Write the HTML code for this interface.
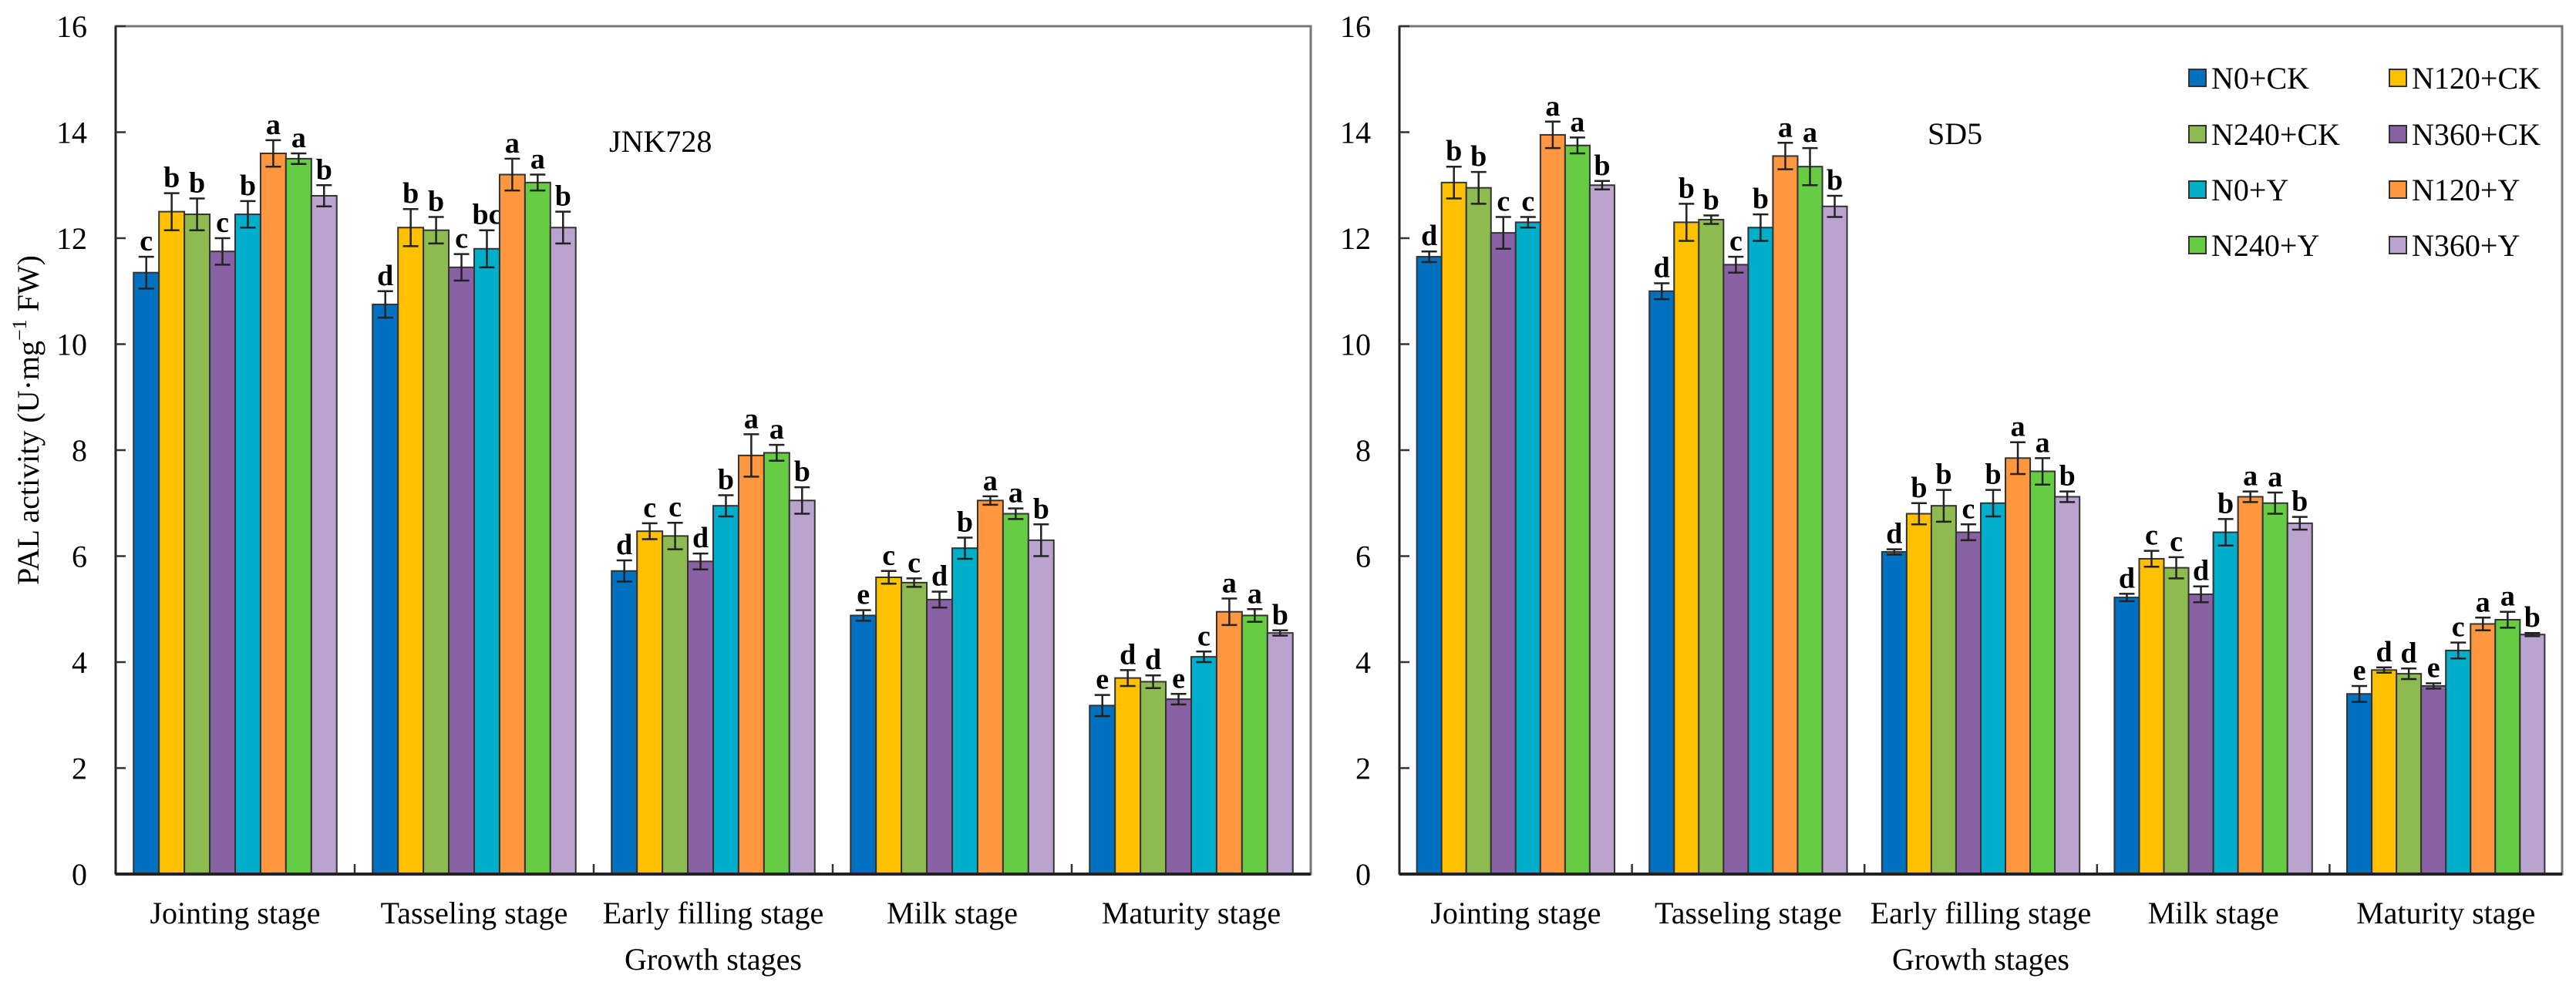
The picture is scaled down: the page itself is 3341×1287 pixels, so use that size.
<!DOCTYPE html>
<html><head><meta charset="utf-8"><style>
html,body{margin:0;padding:0;background:#fff;}
svg{display:block;font-family:"Liberation Serif",serif;}
</style></head><body>
<svg id="chart" width="3341" height="1287" viewBox="0 0 3341 1287" xmlns="http://www.w3.org/2000/svg">
<rect x="0" y="0" width="3341" height="1287" fill="#fff"/>
<text transform="translate(50,545) rotate(-90)" text-anchor="middle" font-size="40">PAL activity (U·mg<tspan font-size="26" dy="-16">−1</tspan><tspan dy="16"> FW)</tspan></text>
</svg>
<script>
const categories = ["Jointing stage","Tasseling stage","Early filling stage","Milk stage","Maturity stage"];
const seriesNames = ["N0+CK","N120+CK","N240+CK","N360+CK","N0+Y","N120+Y","N240+Y","N360+Y"];
const seriesColors = ["#0070C0","#FFC000","#8DBB4F","#8862A5","#00AECA","#FF9640","#66CC44","#BBA3CF"];
const yTicks = [0,2,4,6,8,10,12,14,16];
// JNK728: values[category][series]
const jnkValues = [
 [11.35,12.5,12.45,11.75,12.45,13.6,13.5,12.8],
 [10.75,12.2,12.15,11.45,11.8,13.2,13.05,12.2],
 [5.72,6.47,6.38,5.9,6.95,7.9,7.95,7.05],
 [4.88,5.6,5.5,5.18,6.15,7.05,6.8,6.3],
 [3.18,3.7,3.63,3.3,4.1,4.95,4.88,4.55]];
const jnkErrors = [
 [0.3,0.35,0.3,0.25,0.25,0.25,0.1,0.2],
 [0.25,0.35,0.25,0.25,0.35,0.3,0.15,0.3],
 [0.2,0.15,0.25,0.15,0.2,0.4,0.15,0.25],
 [0.1,0.12,0.08,0.15,0.2,0.08,0.1,0.3],
 [0.2,0.15,0.12,0.1,0.1,0.25,0.12,0.05]];
const jnkLetters = [
 ["c","b","b","c","b","a","a","b"],
 ["d","b","b","c","bc","a","a","b"],
 ["d","c","c","d","b","a","a","b"],
 ["e","c","c","d","b","a","a","b"],
 ["e","d","d","e","c","a","a","b"]];
// SD5
const sdValues = [
 [11.65,13.05,12.95,12.1,12.3,13.95,13.75,13.0],
 [11.0,12.3,12.35,11.5,12.2,13.55,13.35,12.6],
 [6.08,6.8,6.95,6.45,7.0,7.85,7.6,7.12],
 [5.22,5.95,5.78,5.28,6.45,7.12,7.0,6.62],
 [3.4,3.85,3.78,3.55,4.22,4.72,4.8,4.52]];
const sdErrors = [
 [0.1,0.3,0.3,0.3,0.1,0.25,0.15,0.08],
 [0.15,0.35,0.08,0.15,0.25,0.25,0.35,0.2],
 [0.05,0.2,0.3,0.15,0.25,0.3,0.25,0.1],
 [0.07,0.15,0.2,0.15,0.25,0.1,0.2,0.12],
 [0.15,0.05,0.1,0.05,0.15,0.12,0.15,0.03]];
const sdLetters = [
 ["d","b","b","c","c","a","a","b"],
 ["d","b","b","c","b","a","a","b"],
 ["d","b","b","c","b","a","a","b"],
 ["d","c","c","d","b","a","a","b"],
 ["e","d","d","e","c","a","a","b"]];

const svg = document.getElementById('chart');
const NS = 'http://www.w3.org/2000/svg';
function mk(tag, attrs, parent){const e=document.createElementNS(NS,tag);for(const k in attrs)e.setAttribute(k,attrs[k]);(parent||svg).appendChild(e);return e;}

function panel(px, x0, x1, y0, y1, values, errors, letters, title, titleX, titleY){
  const g = mk('g',{});
  
  
  const yScale = v => y1 - (v/16)*(y1-y0);
  const gw = (x1-x0)/categories.length;
  const bw = gw*0.85/seriesNames.length;
  const fr = mk('rect',{x:x0,y:y0,width:x1-x0,height:y1-y0,fill:'none',stroke:'#777','stroke-width':3},g);
  
  
  const ya = mk('line',{x1:x0,y1:y0,x2:x0,y2:y1,stroke:'#222','stroke-width':3},g);
  
  
  yTicks.forEach(t=>{
    const y=yScale(t);
    const tl = mk('line',{x1:x0,y1:y,x2:x0+13,y2:y,stroke:'#333','stroke-width':2.5},g);
    
    
    const tx = mk('text',{x:x0-37,y:y+14,'text-anchor':'end','font-size':40},g);
    tx.textContent=t;
    
    
  });
  categories.forEach((c,ci)=>{
    const gx = x0+ci*gw;
    if(ci>0){
      const st = mk('line',{x1:gx,y1:y1,x2:gx,y2:y1-13,stroke:'#333','stroke-width':2.5},g);
      
      
    }
    const cl = mk('text',{x:gx+gw/2,y:y1+64,'text-anchor':'middle','font-size':40},g);
    cl.textContent=c;
    
    
    const bx0 = gx + (gw - bw*seriesNames.length)/2;
    seriesNames.forEach((s,si)=>{
      const v=values[ci][si], e=errors[ci][si];
      const bx = bx0+si*bw, by=yScale(v);
      const r = mk('rect',{x:bx,y:by,width:bw,height:y1-by,fill:seriesColors[si],stroke:'#333','stroke-width':2},g);
      
      
      const cx=bx+bw/2, eh=yScale(v+e), el=yScale(v-e);
      const eb = mk('path',{d:`M${cx},${eh}V${el}M${cx-10},${eh}H${cx+10}M${cx-10},${el}H${cx+10}`,stroke:'#222','stroke-width':2.5,fill:'none'},g);
      
      
      const lt = mk('text',{x:cx,y:eh-8,'text-anchor':'middle','font-size':38,'font-weight':'bold'},g);
      lt.textContent=letters[ci][si];
      
      
    });
  });
  const xa = mk('line',{x1:x0,y1:y1,x2:x1,y2:y1,stroke:'#222','stroke-width':4},g);
  
  
  const xt = mk('text',{x:(x0+x1)/2,y:y1+124,'text-anchor':'middle','font-size':40},g);
  xt.textContent='Growth stages';
  
  
  const pt = mk('text',{x:titleX,y:titleY,'font-size':40},g);
  pt.textContent=title;
  
  
}
panel('jnk728',150,1700,34,1134,jnkValues,jnkErrors,jnkLetters,'JNK728',790,197);
panel('sd5',1815,3323,34,1134,sdValues,sdErrors,sdLetters,'SD5',2500,187);

const lg = mk('g',{});


seriesNames.forEach((s,i)=>{
  const col=i%2,row=Math.floor(i/2);
  const lx = col? 3099:2839, ly = [101,174,246,318][row];
  const e = mk('g',{},lg);
  
  
  mk('rect',{x:lx,y:ly-11,width:22,height:22,fill:seriesColors[i],stroke:'#333','stroke-width':2},e);
  const t = mk('text',{x:lx+29,y:ly+14,'font-size':40},e);
  t.textContent=s;
});
</script>
</body></html>
